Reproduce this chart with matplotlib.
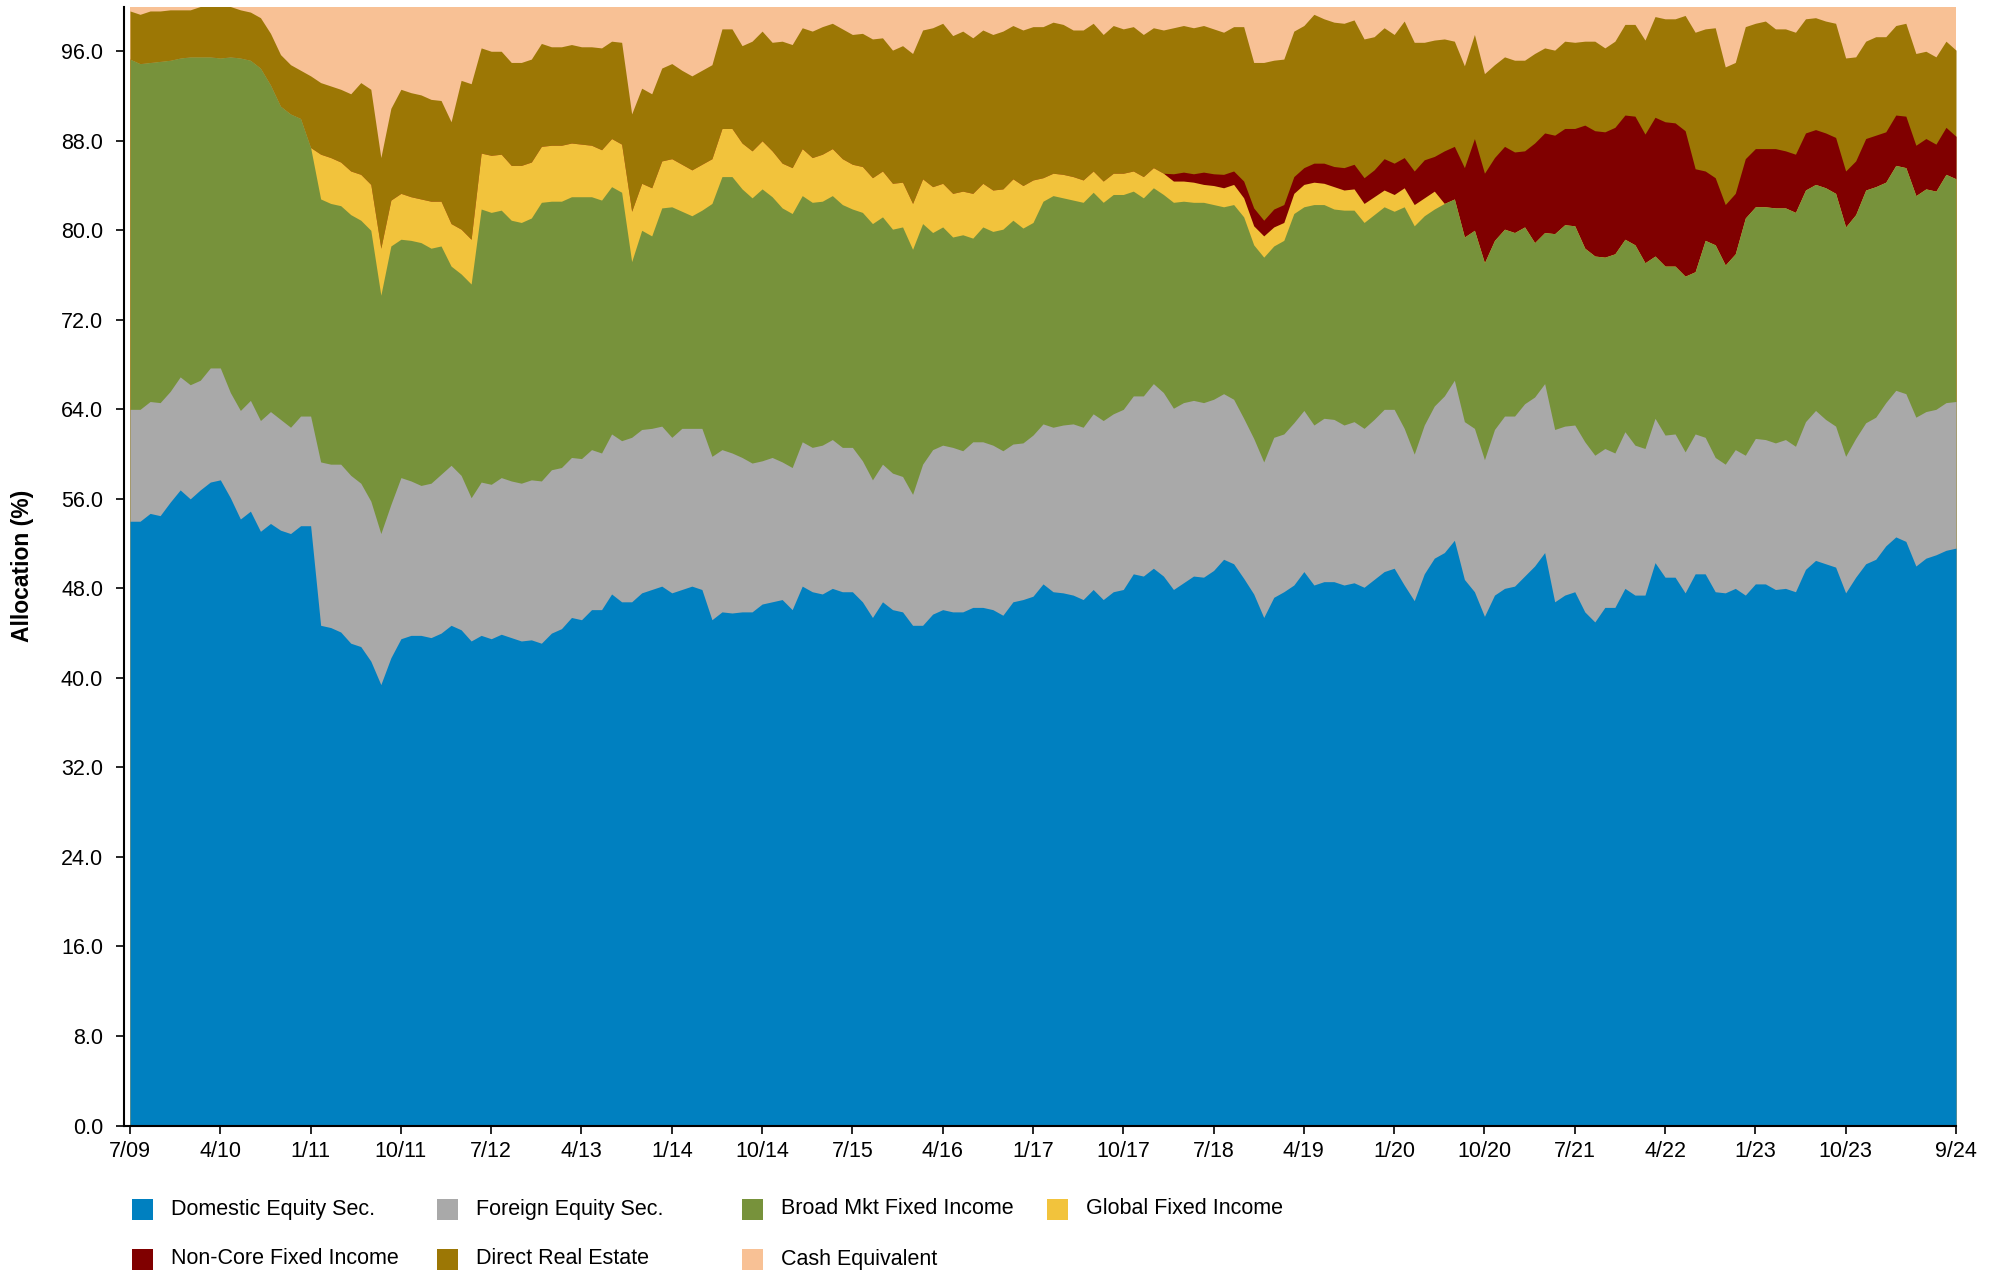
import numpy as np
import matplotlib.pyplot as plt
from matplotlib.patches import Rectangle
from matplotlib.ticker import FormatStrFormatter

plt.rcParams['font.family'] = ['Liberation Sans', 'DejaVu Sans']

series_names = ['Domestic Equity Sec.', 'Foreign Equity Sec.', 'Broad Mkt Fixed Income',
                'Global Fixed Income', 'Non-Core Fixed Income', 'Direct Real Estate',
                'Cash Equivalent']
colors = ['#0080C0', '#A9A9A9', '#77923B', '#F2C33C', '#800000', '#9C7705', '#F8C195']

tick_labels = ['7/09', '4/10', '1/11', '10/11', '7/12', '4/13', '1/14', '10/14', '7/15',
               '4/16', '1/17', '10/17', '7/18', '4/19', '1/20', '10/20', '7/21', '4/22',
               '1/23', '10/23', '9/24']

# cumulative stack levels (top edge of each layer), monthly 7/09 .. 9/24
domestic_top = [
    54.0, 54.0, 54.7, 54.5, 55.7, 56.8, 56.0, 56.8, 57.5, 57.7, 56.1, 54.2, 54.9, 53.1, 53.8, 53.2,
    52.9, 53.6, 53.6, 44.7, 44.5, 44.1, 43.1, 42.8, 41.5, 39.4, 41.8, 43.5, 43.8, 43.8, 43.6,
    44.0, 44.7, 44.3, 43.3, 43.8, 43.5, 43.9, 43.6, 43.3, 43.4, 43.1, 44.0, 44.4, 45.4, 45.2, 46.1,
    46.1, 47.5, 46.8, 46.8, 47.6, 47.9, 48.2, 47.6, 47.9, 48.2, 47.9, 45.2, 45.9, 45.8, 45.9,
    45.9, 46.6, 46.8, 47.0, 46.1, 48.2, 47.7, 47.5, 48.0, 47.7, 47.7, 46.8, 45.4, 46.8, 46.1, 45.9,
    44.7, 44.7, 45.7, 46.1, 45.9, 45.9, 46.3, 46.3, 46.1, 45.6, 46.8, 47.0, 47.3, 48.4, 47.7,
    47.6, 47.4, 47.0, 47.9, 47.0, 47.7, 47.9, 49.3, 49.1, 49.8, 49.1, 47.9, 48.5, 49.1, 49.0, 49.6,
    50.6, 50.2, 48.9, 47.5, 45.4, 47.2, 47.7, 48.3, 49.5, 48.3, 48.6, 48.6, 48.3, 48.5, 48.1,
    48.8, 49.5, 49.8, 48.3, 46.9, 49.3, 50.7, 51.2, 52.3, 48.8, 47.7, 45.5, 47.4, 48.0, 48.2, 49.1,
    50.0, 51.2, 46.8, 47.4, 47.7, 45.9, 45.0, 46.3, 46.3, 48.0, 47.4, 47.4, 50.3, 49.0, 49.0,
    47.6, 49.3, 49.3, 47.7, 47.6, 48.0, 47.4, 48.4, 48.4, 47.9, 48.0, 47.7, 49.7, 50.5, 50.2, 49.9,
    47.6, 49.0, 50.2, 50.6, 51.8, 52.6, 52.2, 50.0, 50.7, 51.0, 51.4, 51.6]

foreign_top = [
    64.0, 64.0, 64.7, 64.6, 65.6, 66.9, 66.2, 66.6, 67.7, 67.7, 65.5, 63.9, 64.8, 63.0, 63.8, 63.1,
    62.4, 63.4, 63.4, 59.3, 59.1, 59.1, 58.1, 57.4, 55.8, 52.9, 55.5, 57.9, 57.6, 57.2, 57.4,
    58.2, 59.0, 58.1, 56.1, 57.5, 57.3, 57.9, 57.6, 57.4, 57.7, 57.6, 58.6, 58.8, 59.7, 59.6, 60.4,
    60.1, 61.8, 61.2, 61.5, 62.2, 62.3, 62.5, 61.5, 62.3, 62.3, 62.3, 59.8, 60.4, 60.1, 59.7,
    59.2, 59.4, 59.7, 59.3, 58.8, 61.1, 60.6, 60.8, 61.3, 60.6, 60.6, 59.4, 57.7, 59.1, 58.3, 58.0,
    56.4, 59.1, 60.4, 60.8, 60.6, 60.3, 61.1, 61.1, 60.8, 60.3, 60.9, 61.0, 61.7, 62.7, 62.4,
    62.6, 62.7, 62.4, 63.6, 63.0, 63.6, 64.0, 65.2, 65.2, 66.3, 65.5, 64.1, 64.6, 64.8, 64.6, 64.9,
    65.4, 64.9, 63.2, 61.4, 59.3, 61.5, 61.8, 62.8, 63.9, 62.6, 63.2, 63.1, 62.6, 62.9, 62.3,
    63.1, 64.0, 64.0, 62.3, 60.0, 62.6, 64.3, 65.2, 66.6, 62.9, 62.3, 59.5, 62.2, 63.4, 63.4, 64.5,
    65.1, 66.3, 62.2, 62.5, 62.6, 61.1, 59.9, 60.5, 60.1, 62.0, 60.8, 60.5, 63.2, 61.7, 61.8,
    60.2, 61.8, 61.5, 59.7, 59.1, 60.4, 59.9, 61.4, 61.3, 61.0, 61.3, 60.7, 62.9, 63.9, 63.1, 62.5,
    59.8, 61.4, 62.8, 63.3, 64.6, 65.7, 65.4, 63.3, 63.8, 64.0, 64.6, 64.7]

broad_top = [
    95.3, 94.9, 95.0, 95.1, 95.2, 95.4, 95.5, 95.5, 95.5, 95.4, 95.5, 95.4, 95.2, 94.5, 93.0, 91.1,
    90.4, 90.0, 87.4, 82.8, 82.4, 82.2, 81.4, 80.9, 80.0, 74.2, 78.6, 79.2, 79.1, 78.9, 78.4,
    78.6, 76.8, 76.1, 75.2, 81.9, 81.6, 81.8, 80.9, 80.7, 81.1, 82.5, 82.6, 82.6, 83.0, 83.0, 83.0,
    82.7, 83.9, 83.4, 77.2, 80.0, 79.5, 82.0, 82.1, 81.7, 81.3, 81.8, 82.4, 84.8, 84.8, 83.7,
    82.9, 83.7, 83.0, 82.0, 81.5, 83.1, 82.5, 82.6, 83.1, 82.3, 81.9, 81.6, 80.6, 81.2, 80.1, 80.3,
    78.3, 80.6, 79.8, 80.3, 79.4, 79.6, 79.3, 80.3, 79.9, 80.1, 80.9, 80.2, 80.7, 82.6, 83.1,
    82.9, 82.7, 82.5, 83.4, 82.5, 83.2, 83.2, 83.5, 82.9, 83.8, 83.2, 82.5, 82.6, 82.5, 82.5, 82.3,
    82.1, 82.3, 81.2, 78.7, 77.6, 78.6, 79.1, 81.5, 82.1, 82.3, 82.3, 81.9, 81.8, 81.8, 80.7,
    81.4, 82.1, 81.7, 82.1, 80.4, 81.3, 81.9, 82.4, 82.8, 79.4, 80.0, 77.1, 79.1, 80.1, 79.8, 80.3,
    78.9, 79.8, 79.7, 80.5, 80.4, 78.4, 77.7, 77.6, 77.9, 79.2, 78.7, 77.1, 77.7, 76.8, 76.8,
    75.9, 76.3, 79.1, 78.7, 76.9, 77.9, 81.1, 82.1, 82.1, 82.0, 82.0, 81.6, 83.6, 84.1, 83.8, 83.3,
    80.3, 81.4, 83.6, 83.9, 84.3, 85.8, 85.6, 83.1, 83.7, 83.5, 85.0, 84.6]

# global fixed income held 1/11 .. 8/20 only
global_start = 18
global_top = [
    87.4, 86.8, 86.5, 86.1, 85.3, 85.0, 84.1, 78.4, 82.7, 83.3, 83.0, 82.8, 82.6,
    82.6, 80.6, 80.1, 79.2, 86.9, 86.7, 86.8, 85.8, 85.8, 86.1, 87.5, 87.6, 87.6, 87.8, 87.7, 87.6,
    87.2, 88.2, 87.7, 81.7, 84.2, 83.8, 86.2, 86.4, 85.9, 85.4, 85.9, 86.4, 89.1, 89.1, 87.8,
    87.1, 88.0, 87.1, 86.0, 85.6, 87.3, 86.5, 86.8, 87.3, 86.4, 85.9, 85.7, 84.7, 85.3, 84.2, 84.3,
    82.4, 84.6, 83.9, 84.2, 83.3, 83.5, 83.3, 84.2, 83.6, 83.7, 84.6, 84.0, 84.5, 84.7, 85.1,
    85.0, 84.8, 84.5, 85.3, 84.4, 85.1, 85.1, 85.3, 84.8, 85.6, 85.1, 84.4, 84.4, 84.3, 84.1, 84.0,
    83.8, 84.1, 82.9, 80.4, 79.5, 80.3, 80.7, 83.3, 84.1, 84.3, 84.2, 83.9, 83.6, 83.7, 82.4,
    83.0, 83.6, 83.2, 83.8, 82.3, 82.9, 83.5, 82.4]

# non-core fixed income from 2/18 on
noncore_start = 103
noncore_top = [
    85.1, 85.05, 85.2, 85.05, 85.2, 85.05, 85.0, 85.3, 84.4, 82.0, 80.9, 81.9, 82.3, 84.8, 85.6,
    86.0, 86.0, 85.7, 85.6, 85.9, 84.7,
    85.4, 86.4, 86.0, 86.5, 85.3, 86.3, 86.6, 87.1, 87.5, 85.6, 88.2, 85.1, 86.5, 87.5, 87.0, 87.1,
    87.8, 88.7, 88.5, 89.1, 89.1, 89.4, 88.9, 88.8, 89.2, 90.3, 90.2, 88.6, 90.1, 89.7, 89.6,
    88.9, 85.5, 85.3, 84.7, 82.3, 83.3, 86.4, 87.3, 87.3, 87.3, 87.1, 86.8, 88.7, 89.0, 88.7, 88.3,
    85.3, 86.2, 88.2, 88.5, 88.8, 90.3, 90.2, 87.6, 88.2, 87.7, 89.2, 88.4]

estate_top = [
    99.6, 99.3, 99.6, 99.6, 99.7, 99.7, 99.7, 100.0, 100.0, 100.0, 100.0, 99.7, 99.5, 99.0, 97.6,
    95.7, 94.8, 94.3, 93.8, 93.2, 92.9, 92.6, 92.2, 93.2, 92.6, 86.5, 90.9, 92.6, 92.3, 92.1, 91.7,
    91.6, 89.7, 93.4, 93.1, 96.3, 96.0, 96.0, 95.0, 95.0, 95.3, 96.7, 96.4, 96.4, 96.6, 96.4, 96.4,
    96.3, 96.9, 96.8, 90.4, 92.7, 92.2, 94.5, 94.9, 94.3, 93.8, 94.3, 94.8, 98.0, 98.0, 96.5,
    96.9, 97.8, 96.8, 96.9, 96.6, 98.1, 97.8, 98.2, 98.5, 98.0, 97.5, 97.6, 97.1, 97.2, 96.1, 96.5,
    95.8, 97.9, 98.1, 98.5, 97.4, 97.8, 97.2, 97.9, 97.5, 97.8, 98.3, 97.9, 98.2, 98.2, 98.6,
    98.4, 97.9, 97.9, 98.5, 97.5, 98.3, 98.0, 98.2, 97.5, 98.1, 97.9, 98.1, 98.3, 98.1, 98.3, 98.0,
    97.7, 98.2, 98.2, 95.0, 95.0, 95.2, 95.3, 97.8, 98.3, 99.3, 98.9, 98.6, 98.5, 98.8, 97.1,
    97.3, 98.1, 97.5, 98.7, 96.8, 96.8, 97.0, 97.1, 96.9, 94.7, 97.5, 94.0, 94.8, 95.5, 95.2, 95.2,
    95.8, 96.3, 96.1, 96.9, 96.8, 96.9, 96.9, 96.3, 96.9, 98.4, 98.4, 97.0, 99.1, 98.9, 98.9,
    99.2, 97.7, 98.0, 98.1, 94.6, 95.0, 98.2, 98.5, 98.7, 98.0, 98.0, 97.7, 98.9, 99.0, 98.7, 98.5,
    95.4, 95.5, 96.9, 97.3, 97.3, 98.3, 98.5, 95.8, 96.0, 95.5, 96.9, 96.1]

n = len(domestic_top)
x = np.arange(n)

global_edge = np.array(broad_top)
global_edge[global_start:global_start + len(global_top)] = global_top
noncore_edge = global_edge.copy()
noncore_edge[noncore_start:noncore_start + len(noncore_top)] = noncore_top
total = np.full(n, 100.0)

edges = [np.array(domestic_top), np.array(foreign_top), np.array(broad_top),
         global_edge, noncore_edge, np.array(estate_top), total]

W, H = 2003, 1273
fig = plt.figure(figsize=(W / 100, H / 100), dpi=100)
ax = fig.add_axes([124 / W, 1 - 1125.5 / H, 1832 / W, 1119 / H])

# paint from the top layer down so no seams show between layers
for edge, color in reversed(list(zip(edges, colors))):
    ax.fill_between(x, 0, edge, color=color, lw=0)

ax.set_xlim(-0.6, n - 1)
ax.set_ylim(0, 100)

tick_pos = []
for lab in tick_labels:
    mo, yr = lab.split('/')
    tick_pos.append((int(yr) - 9) * 12 + int(mo) - 7)
ax.set_xticks(tick_pos)
ax.set_xticklabels(tick_labels)
ax.set_yticks(np.arange(0, 97, 8))
ax.yaxis.set_major_formatter(FormatStrFormatter('%.1f'))
ax.tick_params(labelsize=15.5, length=6, width=1.2, color='black', labelcolor='black')
ax.tick_params(axis='y', pad=9)
ax.tick_params(axis='x', pad=5)

for s in ['top', 'right']:
    ax.spines[s].set_visible(False)
for s in ['left', 'bottom']:
    ax.spines[s].set_linewidth(1.5)
    ax.spines[s].set_color('black')

fig.text(23 / W, 1 - 566 / H, 'Allocation (%)', rotation=90, fontsize=16.5, fontweight='bold',
         ha='center', va='center')

# legend, two rows of four
for i, (name, color) in enumerate(zip(series_names, colors)):
    row, col = divmod(i, 4)
    sx = 132 + col * 305
    yc = 1209 + row * 50
    fig.add_artist(Rectangle((sx / W, 1 - (yc + 10.5) / H), 21 / W, 21 / H,
                             transform=fig.transFigure, color=color, lw=0))
    fig.text((sx + 39) / W, 1 - yc / H, name, fontsize=15.5, ha='left', va='center')

fig.savefig('out.png', dpi=100)
